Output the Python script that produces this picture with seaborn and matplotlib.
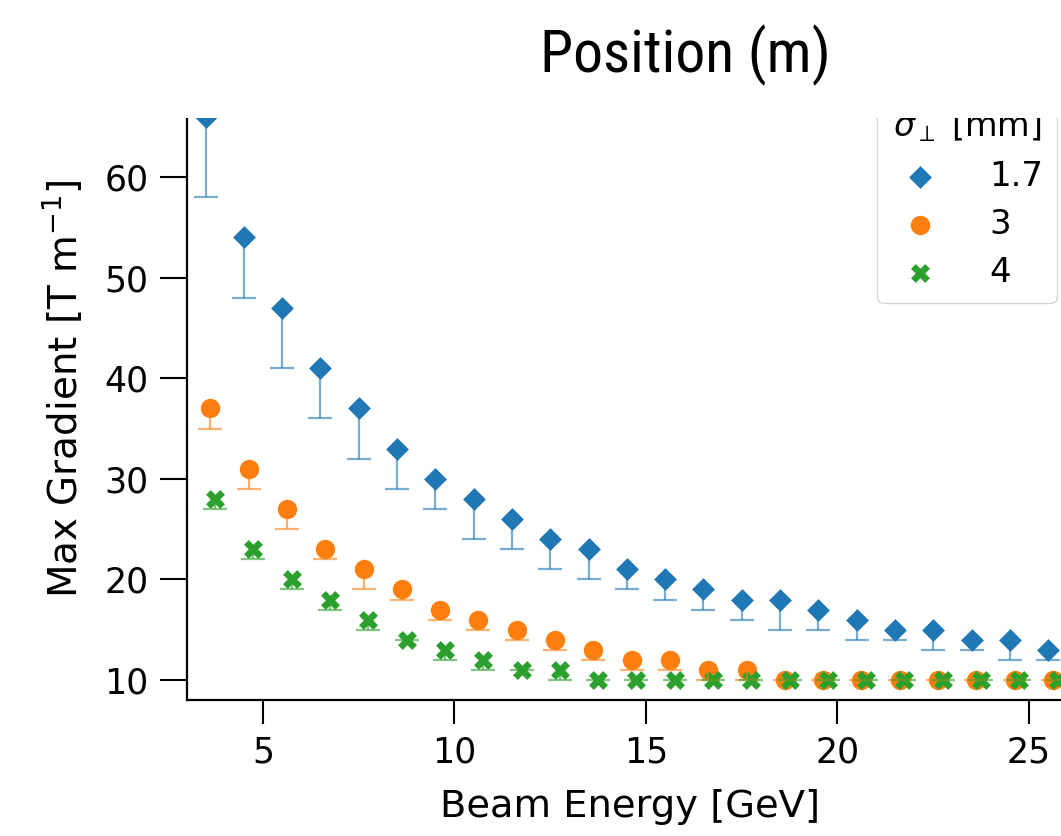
import numpy as np
import pandas as pd
import matplotlib
matplotlib.use("Agg")
from matplotlib import pyplot as plt
from matplotlib.patches import Rectangle
import seaborn as sns

# beam energies (GeV) at which each beam size was simulated
energy_17 = [3.5, 4.5, 5.5, 6.5, 7.5, 8.5, 9.5, 10.5, 11.5, 12.5, 13.5, 14.5,
             15.5, 16.5, 17.5, 18.5, 19.5, 20.5, 21.5, 22.5, 23.5, 24.5, 25.5]
energy_3 = [3.625, 4.625, 5.625, 6.625, 7.625, 8.625, 9.625, 10.625, 11.625, 12.625, 13.625, 14.625,
            15.625, 16.625, 17.625, 18.625, 19.625, 20.625, 21.625, 22.625, 23.625, 24.625, 25.625]
energy_4 = [3.75, 4.75, 5.75, 6.75, 7.75, 8.75, 9.75, 10.75, 11.75, 12.75, 13.75, 14.75,
            15.75, 16.75, 17.75, 18.75, 19.75, 20.75, 21.75, 22.75, 23.75, 24.75, 25.75]

# max gradient [T/m] and lower bound of the error bar
grad_17 = [66, 54, 47, 41, 37, 33, 30, 28, 26, 24, 23, 21, 20, 19, 18, 18, 17, 16, 15, 15, 14, 14, 13]
low_17 = [58, 48, 41, 36, 32, 29, 27, 24, 23, 21, 20, 19, 18, 17, 16, 15, 15, 14, 14, 13, 13, 12, 12]
grad_3 = [37, 31, 27, 23, 21, 19, 17, 16, 15, 14, 13, 12, 12, 11, 11, 10, 10, 10, 10, 10, 10, 10, 10]
low_3 = [35, 29, 25, 22, 19, 18, 16, 15, 14, 13, 12, 11, 11, 10, 10, 10, 10, 10, 10, 10, 10, 10, 10]
grad_4 = [28, 23, 20, 18, 16, 14, 13, 12, 11, 11, 10, 10, 10, 10, 10, 10, 10, 10, 10, 10, 10, 10, 10]
low_4 = [27, 22, 19, 17, 15, 14, 12, 11, 11, 10, 10, 10, 10, 10, 10, 10, 10, 10, 10, 10, 10, 10, 10]

sigma_labels = ["1.7", "3", "4"]
colors = ["#1f77b4", "#ff7f0e", "#2ca02c"]
markers = ["D", "o", "X"]
msizes = [135, 195, 185]

series = [(energy_17, grad_17, low_17), (energy_3, grad_3, low_3), (energy_4, grad_4, low_4)]

sns.set_style("ticks")
plt.rcParams["font.family"] = ["DejaVu Sans"]
plt.rcParams["text.color"] = "black"
plt.rcParams["axes.labelcolor"] = "black"

W, H = 1061, 836
fig = plt.figure(figsize=(W / 100, H / 100), dpi=100)
ax = fig.add_axes([187 / W, 136 / H, 886 / W, 623.6 / H])

for (x, y, lo), lab, col, mk, s in zip(series, sigma_labels, colors, markers, msizes):
    df = pd.DataFrame({"E": x, "G": y, "L": lo})
    sns.scatterplot(data=df, x="E", y="G", color=col, marker=mk, s=s, linewidth=0,
                    label=lab, ax=ax, zorder=2)
    err = [np.array(y) - np.array(lo), np.zeros(len(y))]
    cont = ax.errorbar(df["E"], df["G"], yerr=err, fmt="none", ecolor=col, alpha=0.6,
                       elinewidth=1.6, capsize=8.5, capthick=1.6, zorder=3)
    cont.lines[1][1].set_visible(False)  # no cap on the (empty) upper side

ax.set_xlim(3.016, 26.15)
ax.set_ylim(8.012, 70)
ax.set_xticks([5, 10, 15, 20, 25])
ax.set_yticks([10, 20, 30, 40, 50, 60])
ax.tick_params(axis="x", length=17.5, width=1.5, pad=8, labelsize=25, colors="black")
ax.tick_params(axis="y", length=19.5, width=1.5, pad=8, labelsize=25, colors="black")
for sp in ax.spines.values():
    sp.set_linewidth(1.6)
    sp.set_color("black")
sns.despine(ax=ax)

ax.set_xlabel("Beam Energy [GeV]", fontsize=27.7, labelpad=14)
ax.set_ylabel(r"Max Gradient [T m$^{-1}$]", fontsize=28, labelpad=14)

leg = ax.legend(title=r"$\sigma_\perp$ [mm]", loc="upper right",
                bbox_to_anchor=(1057 / W, (H - 95) / H), bbox_transform=fig.transFigure,
                borderaxespad=0, fontsize=24.5, title_fontsize=24, handlelength=1.75,
                handletextpad=1.15, labelspacing=0.45, borderpad=0.4)
for t in leg.get_texts():
    t.set_color("black")

# the figure was cropped: blank band above the plot with the panel heading
fig.patches.append(Rectangle((0, (H - 118) / H), 1, 118 / H, transform=fig.transFigure,
                             facecolor="white", edgecolor="none", zorder=5))
fig.text(685 / W, (H - 72) / H, "Position (m)", ha="center", va="baseline", fontsize=43,
         family=["Roboto Condensed", "Liberation Sans Narrow", "DejaVu Sans"],
         fontstretch="condensed", color="black", zorder=6)

fig.savefig("out.png", dpi=100)
